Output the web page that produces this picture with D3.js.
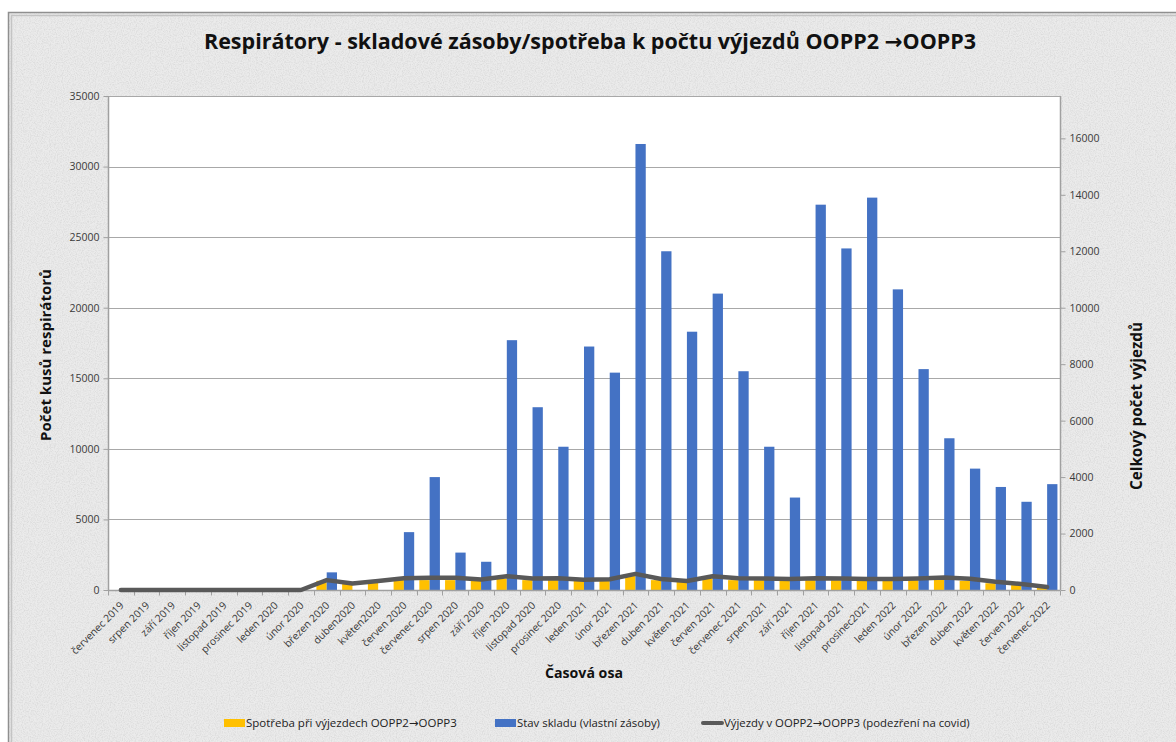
<!DOCTYPE html>
<html>
<head>
<meta charset="utf-8">
<script src="https://cdn.jsdelivr.net/npm/d3@7"></script>
<style>
  html, body { margin: 0; padding: 0; background: #ffffff; }
  svg { display: block; }
  text { font-family: "Open Sans", "Noto Sans", sans-serif; }
  tspan.arrow { font-family: "DejaVu Sans", sans-serif; }
</style>
</head>
<body>
<svg id="chart" width="1176" height="742"></svg>
<script>
// ---- DATA ----
const categories = [
  "červenec 2019", "srpen 2019", "září 2019", "říjen 2019", "listopad 2019", "prosinec 2019",
  "leden 2020", "únor 2020", "březen 2020", "duben2020", "květen2020", "červen 2020",
  "červenec 2020", "srpen 2020", "září 2020", "říjen 2020", "listopad 2020", "prosinec 2020",
  "leden 2021", "únor 2021", "březen 2021", "duben 2021", "květen 2021", "červen 2021",
  "červenec 2021", "srpen 2021", "září 2021", "říjen 2021", "listopad 2021", "prosinec2021",
  "leden 2022", "únor 2022", "březen 2022", "duben 2022", "květen 2022", "červen 2022",
  "červenec 2022"
];
// Spotřeba při výjezdech (left axis)
const consumption = [
  0, 0, 0, 0, 0, 0,
  0, 0, 650, 430, 570, 720,
  700, 700, 650, 800, 700, 700,
  650, 650, 1000, 700, 600, 830,
  700, 700, 650, 700, 700, 650,
  650, 700, 750, 650, 480, 350,
  220
];
// Stav skladu (left axis)
const stock = [
  0, 0, 0, 0, 0, 0,
  0, 0, 1250, 0, 0, 4100,
  8000, 2650, 2000, 17700, 12950, 10150,
  17250, 15400, 31600, 24000, 18300, 21000,
  15500, 10150, 6550, 27300, 24200, 27800,
  21300, 15650, 10750, 8600, 7300, 6250,
  7500
];
// Výjezdy (right axis)
const trips = [
  0, 0, 0, 0, 0, 0,
  0, 0, 350, 230, 320, 420,
  430, 430, 370, 490, 410, 420,
  360, 380, 570, 390, 320, 490,
  420, 410, 390, 420, 410, 390,
  390, 410, 440, 400, 290, 210,
  110
];
const leftTicks = [0, 5000, 10000, 15000, 20000, 25000, 30000, 35000];
const rightTicks = [0, 2000, 4000, 6000, 8000, 10000, 12000, 14000, 16000];
const seriesNames = ["Spotřeba při výjezdech OOPP2→OOPP3", "Stav skladu (vlastní zásoby)", "Výjezdy v OOPP2→OOPP3 (podezření na covid)"];
const titleText = "Respirátory - skladové zásoby/spotřeba k počtu výjezdů OOPP2 →OOPP3";
const xTitle = "Časová osa";
const yLeftTitle = "Počet kusů respirátorů";
const yRightTitle = "Celkový počet výjezdů";

// ---- LAYOUT ----
const svg = d3.select("#chart");
const plot = { left: 108, right: 1060, top: 96, bottom: 590 };
const colYellow = "#FFC000", colBlue = "#4472C4", colLine = "#595959";
const gridCol = "#a8a8a8", axisCol = "#a0a0a0", tickTextCol = "#3a3a3a";

// background frame with paper texture
const defs = svg.append("defs");
const f = defs.append("filter").attr("id", "paper").attr("x", 0).attr("y", 0).attr("width", "100%").attr("height", "100%");
f.append("feTurbulence").attr("type", "fractalNoise").attr("baseFrequency", 0.85).attr("numOctaves", 2).attr("seed", 3).attr("result", "noise");
f.append("feColorMatrix").attr("in", "noise").attr("type", "matrix")
  .attr("values", "0 0 0 0 0.66  0 0 0 0 0.66  0 0 0 0 0.66  1.6 0 0 0 -0.6").attr("result", "spots");
f.append("feFlood").attr("flood-color", "#ebebeb").attr("result", "bg");
f.append("feComposite").attr("in", "spots").attr("in2", "bg").attr("operator", "over");

svg.append("rect").attr("x", 8).attr("y", 12).attr("width", 1200).attr("height", 760)
  .attr("filter", "url(#paper)");
svg.append("rect").attr("x", 8.5).attr("y", 12.5).attr("width", 1200).attr("height", 760)
  .attr("fill", "none").attr("stroke", "#8f8f8f").attr("stroke-width", 1.5);
svg.append("rect").attr("x", 11.5).attr("y", 15.5).attr("width", 1200).attr("height", 760)
  .attr("fill", "none").attr("stroke", "#c4c4c4").attr("stroke-width", 1.5);

// plot area
svg.append("rect").attr("x", plot.left).attr("y", plot.top)
  .attr("width", plot.right - plot.left).attr("height", plot.bottom - plot.top)
  .attr("fill", "#ffffff");

// scales
const x = d3.scaleBand().domain(categories).range([plot.left, plot.right]).paddingInner(0.2).paddingOuter(0.1);
const xOuter = d3.scaleBand().domain(categories).range([plot.left, plot.right]);
const xSub = d3.scaleBand().domain(["c", "s"]).range([0, x.bandwidth()]);
const yL = d3.scaleLinear().domain([0, 35000]).range([plot.bottom, plot.top]);
const yR = d3.scaleLinear().domain([0, 17500]).range([plot.bottom, plot.top]);

// gridlines
svg.append("g").selectAll("line").data(leftTicks.filter(d => d > 0)).join("line")
  .attr("x1", plot.left).attr("x2", plot.right)
  .attr("y1", d => Math.round(yL(d)) + 0.5).attr("y2", d => Math.round(yL(d)) + 0.5)
  .attr("stroke", gridCol).attr("stroke-width", 1);

// left axis
const gL = svg.append("g").attr("transform", `translate(${plot.left + 0.5},0)`)
  .call(d3.axisLeft(yL).tickValues(leftTicks).tickFormat(d3.format("d")).tickSize(5).tickPadding(4));
// right axis
const gR = svg.append("g").attr("transform", `translate(${plot.right + 0.5},0)`)
  .call(d3.axisRight(yR).tickValues(rightTicks).tickFormat(d3.format("d")).tickSize(5).tickPadding(4));
[gL, gR].forEach(g => {
  g.select(".domain").attr("stroke", axisCol).attr("stroke-width", 1.5);
  g.selectAll(".tick line").attr("stroke", axisCol);
  g.selectAll(".tick text").attr("fill", tickTextCol).style("font-size", "10.5px")
    .style("font-family", "'Open Sans', sans-serif");
});
gR.select(".domain").attr("d", `M0,${plot.top}V${plot.bottom}`);
gL.select(".domain").attr("d", `M0,${plot.top}V${plot.bottom}`);

// bars
const bars = svg.append("g");
bars.selectAll("rect.c").data(categories).join("rect").attr("class", "c")
  .attr("x", d => x(d) + xSub("c")).attr("width", xSub.bandwidth())
  .attr("y", (d, i) => yL(consumption[i])).attr("height", (d, i) => plot.bottom - yL(consumption[i]))
  .attr("fill", colYellow);
bars.selectAll("rect.s").data(categories).join("rect").attr("class", "s")
  .attr("x", d => x(d) + xSub("s")).attr("width", xSub.bandwidth())
  .attr("y", (d, i) => yL(stock[i])).attr("height", (d, i) => plot.bottom - yL(stock[i]))
  .attr("fill", colBlue);

// x axis
const gX = svg.append("g").attr("transform", `translate(0,${plot.bottom + 0.5})`);
gX.append("line").attr("x1", plot.left).attr("x2", plot.right).attr("stroke", axisCol).attr("stroke-width", 1.5);
const boundaries = categories.map(c => xOuter(c)).concat([plot.right]);
gX.selectAll("line.tk").data(boundaries).join("line").attr("class", "tk")
  .attr("x1", d => Math.round(d) + 0.5).attr("x2", d => Math.round(d) + 0.5)
  .attr("y1", 0).attr("y2", 5).attr("stroke", axisCol);
gX.selectAll("text").data(categories).join("text")
  .attr("transform", d => `translate(${xOuter(d) + xOuter.bandwidth() / 2 + 1},${13}) rotate(-45)`)
  .attr("text-anchor", "end").attr("dy", "0.35em")
  .attr("fill", tickTextCol).style("font-size", "10.3px")
  .text(d => d);

// line
const line = d3.line()
  .x((d, i) => xOuter(categories[i]) + xOuter.bandwidth() / 2)
  .y(d => yR(d));
svg.append("path").datum(trips).attr("d", line)
  .attr("fill", "none").attr("stroke", colLine).attr("stroke-width", 4.5)
  .attr("stroke-linejoin", "round").attr("stroke-linecap", "round");

// text helpers
function withArrows(sel, str) {
  const parts = str.split("→");
  parts.forEach((p, i) => {
    if (i > 0) sel.append("tspan").attr("class", "arrow").text("→");
    sel.append("tspan").text(p);
  });
  return sel;
}
function fit(sel, w) {
  const cur = sel.node().getComputedTextLength();
  const fs = parseFloat(sel.style("font-size"));
  sel.style("font-size", (fs * w / cur).toFixed(2) + "px");
  return sel;
}

// title
fit(withArrows(svg.append("text").attr("x", 590).attr("y", 49).attr("text-anchor", "middle")
  .style("font-size", "22px").style("font-weight", "bold").attr("fill", "#111"), titleText), 772);

// axis titles
fit(svg.append("text").attr("x", 584).attr("y", 678).attr("text-anchor", "middle")
  .style("font-size", "14px").style("font-weight", "bold").attr("fill", "#111")
  .text(xTitle), 78);
fit(svg.append("text").attr("transform", "translate(51,355) rotate(-90)").attr("text-anchor", "middle")
  .style("font-size", "14px").style("font-weight", "bold").attr("fill", "#111")
  .text(yLeftTitle), 172);
fit(svg.append("text").attr("transform", "translate(1142,406) rotate(-90)").attr("text-anchor", "middle")
  .style("font-size", "14px").style("font-weight", "bold").attr("fill", "#111")
  .text(yRightTitle), 168);

// legend
const legY = 723;
const leg = svg.append("g");
const legItems = [
  { name: seriesNames[0], type: "rect", color: colYellow, sx: 224, tx: 246, w: 211 },
  { name: seriesNames[1], type: "rect", color: colBlue, sx: 495, tx: 517, w: 143 },
  { name: seriesNames[2], type: "line", color: colLine, sx: 702, tx: 724, w: 246 }
];
legItems.forEach(it => {
  if (it.type === "rect") {
    leg.append("rect").attr("x", it.sx).attr("y", legY - 4).attr("width", 21).attr("height", 8).attr("fill", it.color);
  } else {
    leg.append("line").attr("x1", it.sx + 1).attr("x2", it.sx + 20).attr("y1", legY).attr("y2", legY)
      .attr("stroke", it.color).attr("stroke-width", 4).attr("stroke-linecap", "round");
  }
  fit(withArrows(leg.append("text").attr("x", it.tx).attr("y", legY).attr("dy", "0.35em")
    .style("font-size", "12px").attr("fill", "#222"), it.name), it.w);
});
</script>
</body>
</html>
